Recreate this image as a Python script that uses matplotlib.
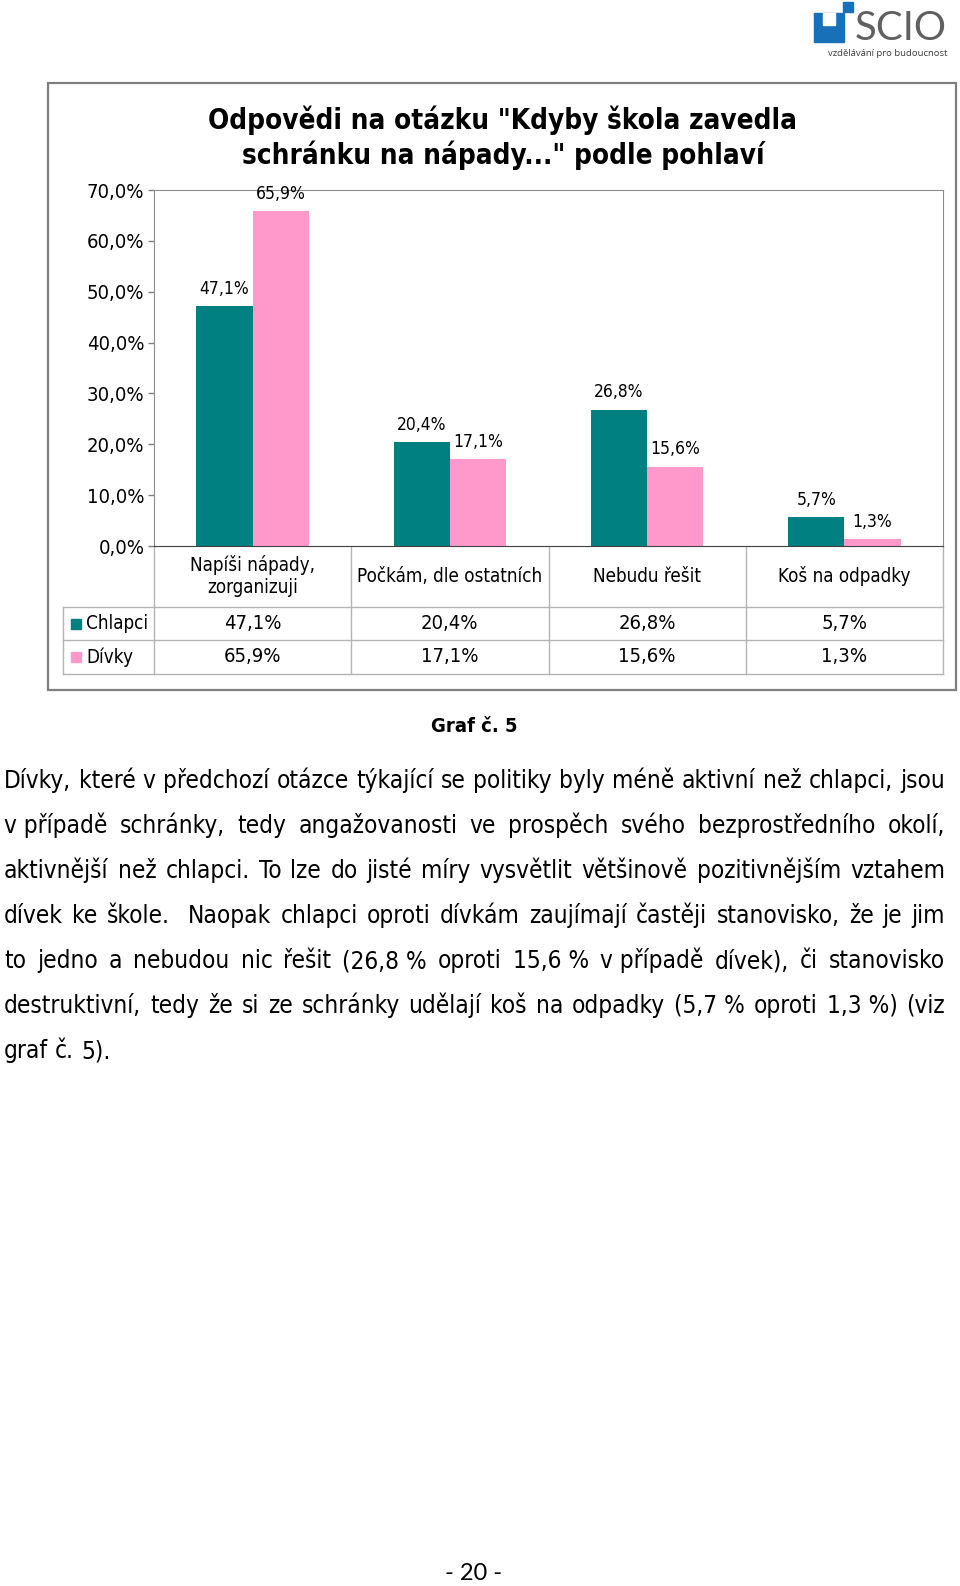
import matplotlib
matplotlib.use('Agg')
import matplotlib.pyplot as plt
from matplotlib.patches import Rectangle
from matplotlib.transforms import blended_transform_factory

# chart data
categories = ['Napíši nápady,\nzorganizuji', 'Počkám, dle ostatních', 'Nebudu řešit', 'Koš na odpadky']
series = ['Chlapci', 'Dívky']
chlapci = [47.1, 20.4, 26.8, 5.7]
divky = [65.9, 17.1, 15.6, 1.3]
yticks = [0, 10, 20, 30, 40, 50, 60, 70]

title = 'Odpovědi na otázku "Kdyby škola zavedla\nschránku na nápady..." podle pohlaví'
caption = 'Graf č. 5'
paragraph = [
    'Dívky, které v předchozí otázce týkající se politiky byly méně aktivní než chlapci, jsou',
    'v\u00a0případě schránky, tedy angažovanosti ve prospěch svého bezprostředního okolí,',
    'aktivnější než chlapci. To lze do jisté míry vysvětlit většinově pozitivnějším vztahem',
    'dívek ke škole.  Naopak chlapci oproti dívkám zaujímají častěji stanovisko, že je jim',
    'to jedno a nebudou nic řešit (26,8\u00a0% oproti 15,6\u00a0% v\u00a0případě dívek), či stanovisko',
    'destruktivní, tedy že si ze schránky udělají koš na odpadky (5,7\u00a0% oproti 1,3\u00a0%) (viz',
    'graf č. 5).',
]

TEAL = '#008080'
PINK = '#ff99cc'
GRID = '#b4b4b4'
FONT = dict(family='DejaVu Sans', fontstretch='condensed')


def pct(v):
    return f'{v:.1f}%'.replace('.', ',')


fig = plt.figure(figsize=(9.6, 15.86), dpi=100)

# page layer in pixel coordinates
page = fig.add_axes([0, 0, 1, 1])
page.set_xlim(0, 960)
page.set_ylim(1586, 0)
page.axis('off')

# chart frame
page.add_patch(Rectangle((48, 83), 908, 607, fill=False, edgecolor='#7f7f7f', lw=1.6))
page.text(503, 138, title, ha='center', va='center', fontsize=20, fontweight='bold',
          linespacing=1.25, **FONT)

# bars
ax = fig.add_axes([154 / 960, 1 - 546 / 1586, (943 - 154) / 960, (546 - 190) / 1586])
ax.patch.set_alpha(0)
x = range(len(categories))
w = 0.285
b1 = ax.bar([i - w / 2 for i in x], chlapci, w, color=TEAL, label=series[0])
b2 = ax.bar([i + w / 2 for i in x], divky, w, color=PINK, label=series[1])
for bars, vals in ((b1, chlapci), (b2, divky)):
    for r, v in zip(bars, vals):
        ax.annotate(pct(v), (r.get_x() + r.get_width() / 2, v), xytext=(0, 6),
                    textcoords='offset points', ha='center', va='bottom', fontsize=12.5, **FONT)
ax.set_xlim(-0.5, len(categories) - 0.5)
ax.set_ylim(0, 70)
ax.set_yticks(yticks)
ax.set_yticklabels([pct(v) for v in yticks], fontsize=14.5, **FONT)
ax.set_xticks([])
ax.tick_params(axis='y', length=4, width=1, color='#7f7f7f', pad=3)
for s in ('top', 'right', 'left'):
    ax.spines[s].set_color('#8c8c8c')
ax.spines['bottom'].set_color('#404040')

# data table below the chart
tr = blended_transform_factory(ax.transData, page.transData)
table_left = 63
rows_y = [546, 607, 640, 674]
for b in [i - 0.5 for i in range(len(categories) + 1)]:
    page.plot([b, b], [rows_y[0], rows_y[-1]], color=GRID, lw=1, transform=tr)
page.plot([table_left, table_left], [rows_y[1], rows_y[-1]], color=GRID, lw=1)
x_end = ax.transData.transform((len(categories) - 0.5, 0))[0]
for yy in rows_y[1:]:
    page.plot([table_left, x_end], [yy, yy], color=GRID, lw=1)

for i, c in enumerate(categories):
    page.text(i, 576, c, transform=tr, ha='center', va='center', fontsize=13.5,
              linespacing=1.15, **FONT)
for r, (name, vals, col) in enumerate(((series[0], chlapci, TEAL), (series[1], divky, PINK))):
    yc = (rows_y[r + 1] + rows_y[r + 2]) / 2
    page.add_patch(Rectangle((71, yc - 5), 10, 10, color=col))
    page.text(86, yc, name, ha='left', va='center', fontsize=13.5, **FONT)
    for i, v in enumerate(vals):
        page.text(i, yc, pct(v), transform=tr, ha='center', va='center', fontsize=14.5, **FONT)

# caption
page.text(474, 726, caption, ha='center', va='center', fontsize=14.5, fontweight='bold', **FONT)

# justified paragraph
renderer = fig.canvas.get_renderer()
left, right = 4, 945
for n, line in enumerate(paragraph):
    base = 788 + n * 45
    words = line.split(' ')
    items = [page.text(0, base, wd, ha='left', va='baseline', fontsize=17.5, **FONT) for wd in words]
    widths = [t.get_window_extent(renderer).width if t.get_text() else 0 for t in items]
    if n < len(paragraph) - 1:
        gap = (right - left - sum(widths)) / (len(words) - 1)
    else:
        gap = 7
    xx = left
    for t, wd in zip(items, widths):
        t.set_x(xx)
        xx += wd + gap

# page number
page.text(474, 1573, '- 20 -', ha='center', va='center', fontsize=17, family='Lato')

# SCIO logo
BLUE = '#1770b8'
page.add_patch(Rectangle((814, 13), 30, 29, color=BLUE))
page.add_patch(Rectangle((823, 13), 12, 12, color='white'))
page.add_patch(Rectangle((843, 2), 10, 10, color=BLUE))
page.text(901, 29, 'SCIO', ha='center', va='center', fontsize=29, color='#606060',
          family='Lato')
page.text(888, 54, 'vzdělávání pro budoucnost', ha='center', va='center', fontsize=6.8,
          color='#3c3c3c', family='Open Sans')

fig.savefig('out.png', dpi=100)
